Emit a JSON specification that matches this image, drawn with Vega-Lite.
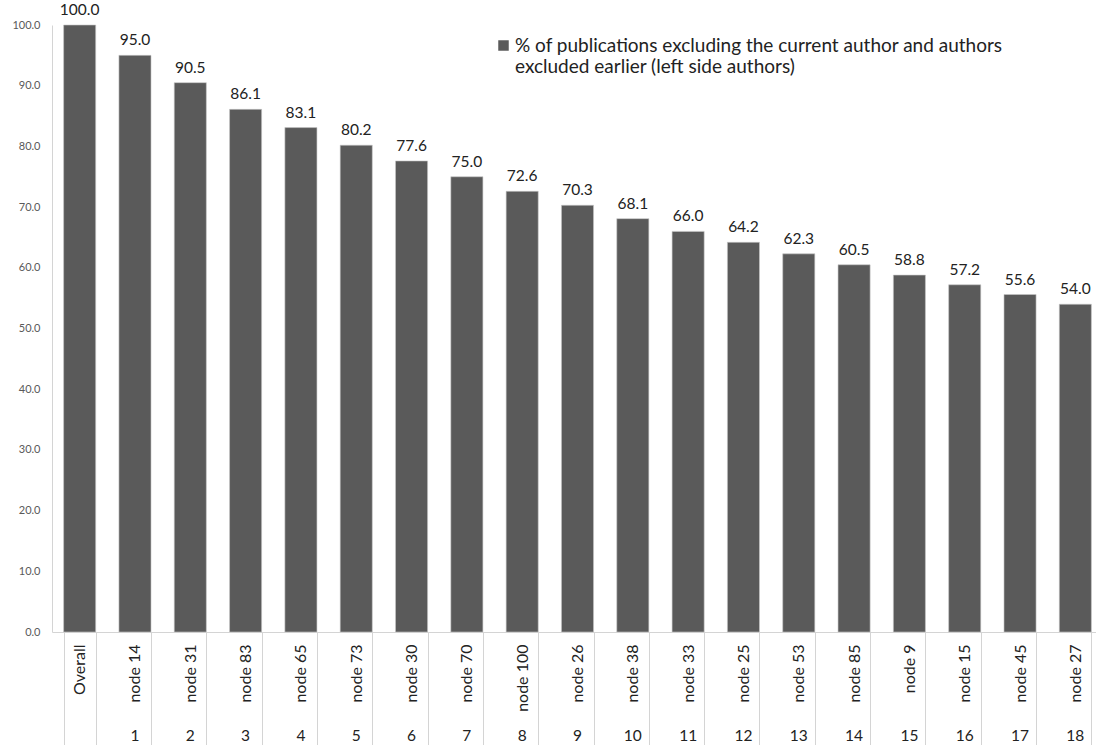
{
  "$schema": "https://vega.github.io/schema/vega-lite/v6.json",
  "width": 1044,
  "height": 607,
  "autosize": {"type": "none"},
  "padding": {"left": 52, "top": 25, "right": 0, "bottom": 113},
  "background": "white",
  "config": {
    "view": {"stroke": null},
    "font": "Lato",
    "axis": {"labelFont": "Lato", "titleFont": "Lato"},
    "legend": {"labelFont": "Lato"}
  },
  "data": {
    "values": [
      {"node": "Overall", "rank": "", "value": 100.0},
      {"node": "node 14", "rank": "1", "value": 95.0},
      {"node": "node 31", "rank": "2", "value": 90.5},
      {"node": "node 83", "rank": "3", "value": 86.1},
      {"node": "node 65", "rank": "4", "value": 83.1},
      {"node": "node 73", "rank": "5", "value": 80.2},
      {"node": "node 30", "rank": "6", "value": 77.6},
      {"node": "node 70", "rank": "7", "value": 75.0},
      {"node": "node 100", "rank": "8", "value": 72.6},
      {"node": "node 26", "rank": "9", "value": 70.3},
      {"node": "node 38", "rank": "10", "value": 68.1},
      {"node": "node 33", "rank": "11", "value": 66.0},
      {"node": "node 25", "rank": "12", "value": 64.2},
      {"node": "node 53", "rank": "13", "value": 62.3},
      {"node": "node 85", "rank": "14", "value": 60.5},
      {"node": "node 9", "rank": "15", "value": 58.8},
      {"node": "node 15", "rank": "16", "value": 57.2},
      {"node": "node 45", "rank": "17", "value": 55.6},
      {"node": "node 27", "rank": "18", "value": 54.0}
    ]
  },
  "resolve": {"scale": {"x": "independent"}, "axis": {"x": "independent"}},
  "layer": [
    {
      "mark": {"type": "bar", "fill": "#5a5a5a", "stroke": "#c8c8c8", "strokeWidth": 0.6},
      "encoding": {
        "x": {
          "field": "node", "type": "nominal", "sort": null,
          "scale": {"paddingInner": 0.42, "paddingOuter": 0.21, "range": [0, 1051]},
          "axis": {
            "orient": "bottom", "title": null, "labelAngle": -90,
            "labelFontSize": 16, "labelColor": "#222222",
            "tickBand": "extent", "tickSize": 113, "tickColor": "#d4d4d4", "tickWidth": 1,
            "domainColor": "#d4d4d4", "labelPadding": -101
          }
        },
        "y": {
          "field": "value", "type": "quantitative",
          "scale": {"domain": [0, 100], "nice": false},
          "axis": {
            "title": null, "values": [0,10,20,30,40,50,60,70,80,90,100], "format": ".1f",
            "grid": false, "ticks": false, "labelPadding": 12, "labelFontSize": 11,
            "labelColor": "#595959", "domainColor": "#d4d4d4"
          }
        },
        "color": {
          "datum": "% of publications excluding the current author and authors excluded earlier (left side authors)",
          "type": "nominal",
          "scale": {"range": ["#5a5a5a"]},
          "legend": {
            "title": null, "orient": "none", "legendX": 442, "legendY": 11,
            "symbolType": "square", "symbolSize": 110, "symbolStrokeWidth": 0,
            "labelFontSize": 19, "labelColor": "#222222", "labelLimit": 700,
            "labelExpr": "['% of publications excluding the current author and authors', 'excluded earlier (left side authors)']",
            "labelOffset": 2,
            "encode": {"labels": {"update": {"lineHeight": {"value": 25}}}}
          }
        }
      }
    },
    {
      "mark": {"type": "text", "baseline": "alphabetic", "dy": -10, "fontSize": 15.5, "color": "#222222"},
      "encoding": {
        "x": {"field": "node", "type": "nominal", "sort": null, "scale": {"paddingInner": 0.42, "paddingOuter": 0.21, "range": [0, 1051]}, "axis": null},
        "y": {"field": "value", "type": "quantitative"},
        "text": {"field": "value", "type": "quantitative", "format": ".1f"}
      }
    },
    {
      "mark": {"type": "bar", "opacity": 0},
      "encoding": {
        "x": {
          "field": "rank", "type": "nominal", "sort": null,
          "scale": {"paddingInner": 0.42, "paddingOuter": 0.21, "range": [0, 1051]},
          "axis": {
            "orient": "bottom", "title": null, "labelAngle": 0, "ticks": false, "domain": false,
            "labelPadding": 96, "labelFontSize": 15.5, "labelColor": "#222222"
          }
        },
        "y": {"field": "value", "type": "quantitative"}
      }
    }
  ]
}
